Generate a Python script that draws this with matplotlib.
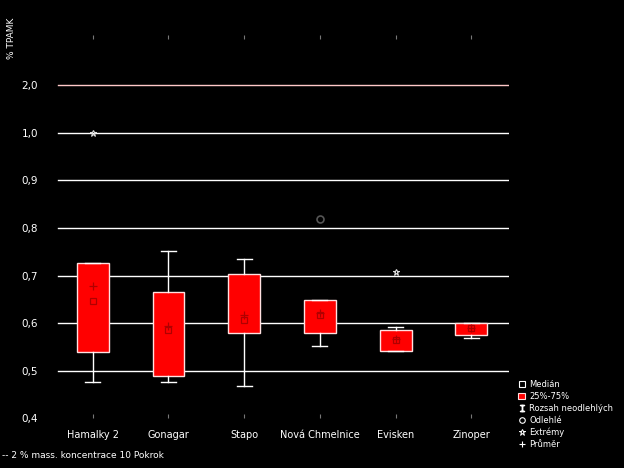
import matplotlib
matplotlib.use("Agg")
import matplotlib.pyplot as plt
from matplotlib.lines import Line2D
from matplotlib.patches import Patch

categories = ["Hamalky 2", "Gonagar", "Stapo", "Nová Chmelnice", "Evisken", "Zinoper"]
q1 = [0.539, 0.489, 0.580, 0.580, 0.542, 0.575]
q3 = [0.726, 0.666, 0.703, 0.649, 0.586, 0.601]
medians = [0.646, 0.586, 0.607, 0.617, 0.565, 0.590]
means = [0.678, 0.594, 0.617, 0.622, 0.567, 0.589]
whisk_lo = [0.477, 0.477, 0.468, 0.551, 0.542, 0.569]
whisk_hi = [0.726, 0.752, 0.734, 0.649, 0.591, 0.601]
# outliers: (category index, value, kind)
outlier_idx = [0, 3, 4]
outlier_val = [1.0, 0.818, 0.708]
outlier_kind = ["extreme", "outlier", "extreme"]

ytick_vals = [0.4, 0.5, 0.6, 0.7, 0.8, 0.9, 1.0, 1.1]
ytick_labels = ["0,4", "0,5", "0,6", "0,7", "0,8", "0,9", "1,0", "2,0"]

legend_labels = ["Medián", "25%-75%", "Rozsah neodlehlých", "Odlehlé", "Extrémy", "Průměr"]
ylabel = "% TPAMK"
footnote = "-- 2 % mass. koncentrace 10 Pokrok"

fig = plt.figure(figsize=(6.24, 4.68), dpi=100, facecolor="black")
ax = fig.add_axes([0.088, 0.106, 0.728, 0.819], facecolor="black")

stats = []
for i in range(len(categories)):
    stats.append(dict(med=medians[i], q1=q1[i], q3=q3[i],
                      whislo=whisk_lo[i], whishi=whisk_hi[i], fliers=[]))

pos = list(range(len(categories)))
ax.bxp(stats, positions=pos, widths=0.42, patch_artist=True, showfliers=False,
       boxprops=dict(facecolor="#ff0000", edgecolor="#ffe0e0", linewidth=1.0),
       whiskerprops=dict(color="white", linewidth=1.0),
       capprops=dict(color="white", linewidth=1.0),
       medianprops=dict(linewidth=0), capwidths=0.2, zorder=3)

ax.plot(pos, medians, linestyle="none", marker="s", markersize=5,
        markerfacecolor="none", markeredgecolor="#b00000", markeredgewidth=0.9, zorder=4)
ax.plot(pos, means, linestyle="none", marker="+", markersize=6,
        color="#b00000", markeredgewidth=0.9, zorder=4)

for i, v, k in zip(outlier_idx, outlier_val, outlier_kind):
    if k == "outlier":
        ax.plot(i, v, linestyle="none", marker="o", markersize=5,
                markerfacecolor="none", markeredgecolor="#555555", markeredgewidth=1.2, zorder=4)
    else:
        ax.plot(i, v, linestyle="none", marker="*", markersize=5,
                markerfacecolor="none", markeredgecolor="#dddddd", markeredgewidth=0.8, zorder=4)

ax.set_xlim(-0.5, len(categories) - 0.5)
ax.set_ylim(0.4, 1.205)
ax.set_yticks(ytick_vals)
ax.set_yticklabels(ytick_labels)
ax.set_xticks(pos)
ax.set_xticklabels(categories)

for s in ax.spines.values():
    s.set_visible(False)

ax.tick_params(axis="y", length=0, pad=12, labelcolor="white", labelsize=7.5)
ax.tick_params(axis="x", length=3, direction="in", color="#777777", top=True,
               pad=8, labelcolor="white", labelsize=7)

for y in ytick_vals[1:]:
    c = "#ffc8c8" if y == ytick_vals[-1] else "white"
    ax.axhline(y, xmin=0.007, xmax=1.0, color=c, linewidth=1.0, zorder=1)

fig.text(12 / 624, 1 - 18 / 468, ylabel, rotation=90, ha="center", va="top",
         color="white", fontsize=6.5)
fig.text(2 / 624, 1 - 456 / 468, footnote, ha="left", va="center",
         color="white", fontsize=6.5)

handles = [
    Line2D([], [], linestyle="none", marker="s", markersize=4,
           markerfacecolor="none", markeredgecolor="white", markeredgewidth=0.8),
    Patch(facecolor="#ff0000", edgecolor="#ffe0e0", linewidth=0.8),
    Line2D([], [], linestyle="none", marker="$\\mathtt{I}$", markersize=5, color="white"),
    Line2D([], [], linestyle="none", marker="o", markersize=4,
           markerfacecolor="none", markeredgecolor="white", markeredgewidth=0.8),
    Line2D([], [], linestyle="none", marker="*", markersize=5,
           markerfacecolor="none", markeredgecolor="white", markeredgewidth=0.7),
    Line2D([], [], linestyle="none", marker="+", markersize=5, color="white",
           markeredgewidth=0.8),
]
leg = fig.legend(handles, legend_labels, loc="upper left",
                 bbox_to_anchor=(512 / 624, 1 - 374 / 468), frameon=False,
                 fontsize=6, labelcolor="white", handlelength=0.9,
                 handletextpad=0.5, labelspacing=0.35, borderpad=0.2)

fig.savefig("out.png", dpi=100, facecolor="black")
